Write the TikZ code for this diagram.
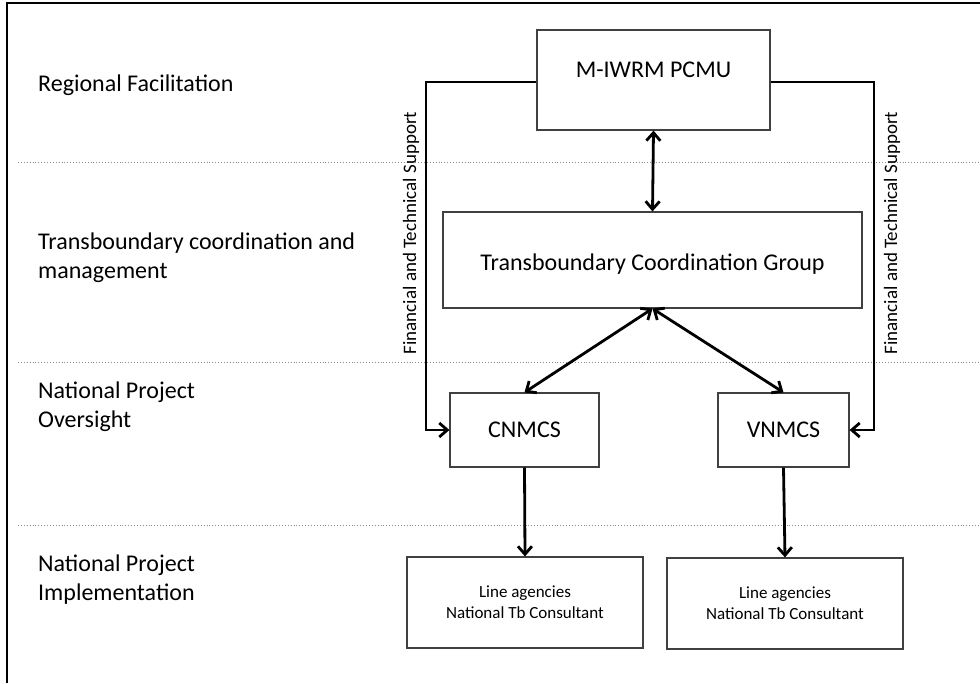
\documentclass[tikz,border=0pt]{standalone}
\usepackage{fontspec}
\setmainfont{Carlito}
\usetikzlibrary{arrows.meta}
\tikzset{
  unitbox/.style = {draw=black!75, line width=1.2pt, fill=white, align=center, inner sep=0pt, font=\fontsize{24}{29}\selectfont},
  smallbox/.style = {unitbox, font=\fontsize{17}{21}\selectfont},
  levellabel/.style = {anchor=west, align=left, inner sep=0pt, font=\fontsize{24}{29}\selectfont},
  supportlabel/.style = {rotate=90, inner sep=0pt, font=\fontsize{19}{22}\selectfont},
  levelline/.style = {black!45, dotted, line width=0.9pt},
  link/.style = {line width=2.8pt, -{Straight Barb[length=8pt,width=14pt]}},
  dlink/.style = {link, {Straight Barb[length=8pt,width=14pt]}-{Straight Barb[length=8pt,width=14pt]}},
}

\begin{document}
\begin{tikzpicture}[x=1pt, y=-1pt]
\useasboundingbox (0,0) rectangle (980,683);
\draw[line width=1.5pt] (7,683) -- (7,3) -- (980,3);
% level separators
\foreach \y in {162, 362, 525}
  \draw[levelline] (18,\y) -- (980,\y);
% level names
\node [levellabel] (regional) at (38,85) {Regional Facilitation};
\node [levellabel] (transb) at (38,258) {Transboundary coordination and\\management};
\node [levellabel] (oversight) at (38,407) {National Project\\Oversight};
\node [levellabel] (implement) at (38,580) {National Project\\Implementation};
% boxes
\node [unitbox, minimum width=233pt, minimum height=100pt] (pcmu) at (653.5,80) {\raisebox{3pt}[0pt][0pt]{M-IWRM PCMU}};
\node [unitbox, minimum width=419pt, minimum height=96pt] (tcg) at (652.5,260) {\raisebox{-10pt}[0pt][0pt]{Transboundary Coordination Group}};
\node [unitbox, minimum width=149pt, minimum height=74pt] (cnmcs) at (524.5,430) {CNMCS};
\node [unitbox, minimum width=131pt, minimum height=74pt] (vnmcs) at (783.5,430) {VNMCS};
\node [smallbox, minimum width=236pt, minimum height=91pt] (cnline) at (525,602.5) {Line agencies\\National Tb Consultant};
\node [smallbox, minimum width=236pt, minimum height=91pt] (vnline) at (785,603.5) {Line agencies\\National Tb Consultant};
% support lines
\coordinate (lt) at (426,82);
\coordinate (rt) at (874,82);
\draw[link] (pcmu.west |- lt) -- (lt) |- (cnmcs.west);
\draw[link] (pcmu.east |- rt) -- (rt) |- (vnmcs.east);
\node [supportlabel] (lsupport) at (411,233) {Financial and Technical Support};
\node [supportlabel] (rsupport) at (892,233) {Financial and Technical Support};
% coordination links
\draw[dlink] (pcmu.south) -- (tcg.north);
\draw[dlink] (tcg.south) -- (cnmcs.north);
\draw[dlink] (tcg.south) -- (vnmcs.north);
\draw[link] (cnmcs.south) -- (cnline.north);
\draw[link] (vnmcs.south) -- (vnline.north);
\end{tikzpicture}
\end{document}
